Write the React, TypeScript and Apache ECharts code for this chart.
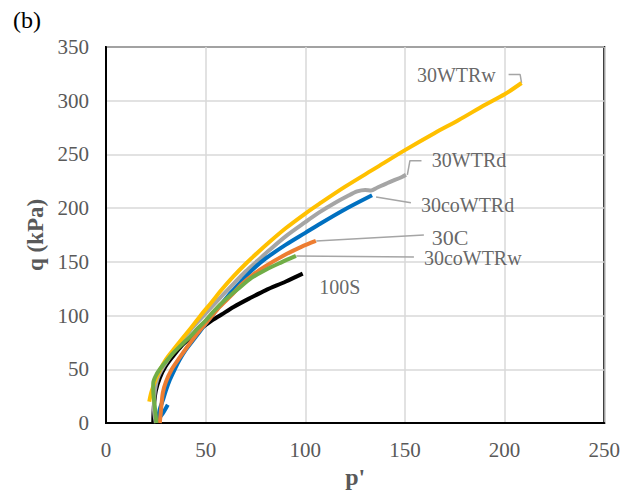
import React, { useEffect, useRef } from "react";
import * as echarts from "echarts";

const FONT = "'Liberation Serif', 'Times New Roman', serif";

// series data (p', q)
const s100S: number[][] = [[23.7,0],[24,15],[25,30],[27,42],[30,53],[34,63],[38,72],[42,79],[47,87],[52,94],[58,101],[64,108],[72,116],[80,123.5],[90,131.5],[98.7,139]];
const s30coWTRw: number[][] = [[25.3,0],[24.5,15],[23.7,30],[23.7,37],[25,44],[27,50],[30,57],[33.7,65],[38,73],[42,80],[46,88],[50.3,96],[54,104],[60,115],[67,126],[73,135],[80,142.5],[88,149.5],[95.3,155.5]];
const s30coWTRd: number[][] = [[31,17],[28.5,9],[26,3],[27,13],[28.5,21],[30,30],[32,40],[34.5,50],[37,59],[40,68],[43.7,77],[47,85],[50.3,93],[54,102],[58,111],[63,122],[68,132],[73.7,143],[80,153],[90.3,166],[100,177],[107,185],[120,199],[133.5,212]];
const s30C: number[][] = [[27,0],[27.5,10],[28.5,28],[30,38],[33,50],[37,61],[42,74],[47,86],[52,97],[57,108],[63,119],[68,129],[73.7,138],[80,146],[90.3,157],[98,164],[105.3,169.5]];
const s30WTRd: number[][] = [[25,0],[24,15],[24.5,30],[26,42],[29,53],[33,64],[38,76],[43,88],[50,102],[57,116],[63.7,129],[70,141],[76,151],[82,161],[90.3,174],[100,187],[107,196],[115,205],[121,211],[126,215.5],[130,217],[133,216.5],[136,219],[142,224],[148.5,229],[150.5,231]];
const s30WTRw: number[][] = [[21.7,19.8],[22.5,27],[23.7,34],[25,41],[27,49],[30,59],[33.7,68],[38,78],[42,87],[47,99],[52.8,112],[58,124],[63.7,136],[70,148],[76,158.5],[82,168.5],[90.3,181.5],[100,195],[107,204],[120,220],[135,237],[150,254],[165,270],[177,282],[190,296],[200,306],[208.5,316.5]];

// annotation leader lines (data coords)
const lead30WTRw: number[][] = [[208.5,316.5],[207.8,324.4],[202,324.4]];
const lead30WTRd: number[][] = [[151.2,231],[152.5,244.2],[158.3,244.2]];
const lead30coWTRd: number[][] = [[135.5,210.4],[153,205]];
const lead30C: number[][] = [[105.5,169.5],[159.5,175]];
const lead30coWTRw: number[][] = [[95.5,155.5],[154.5,154.6]];

// label anchors (left edge, vertical middle)
const labelNames = ["30WTRw", "30WTRd", "30coWTRd", "30C", "30coWTRw", "100S"];
const labelPos: number[][] = [[156,324],[163.5,245],[158,203],[163.5,173],[159.5,153.2],[107,126.6]];

const xTicks = { min: 0, max: 250, interval: 50 };
const yTicks = { min: 0, max: 350, interval: 50 };

export default function App() {
  const ref = useRef<HTMLDivElement>(null);
  useEffect(() => {
    if (!ref.current) return;
    const chart = echarts.init(ref.current, null, { renderer: "svg" });
    const curve = (name: string, data: number[][], color: string) => ({
      name,
      type: "line",
      data,
      showSymbol: false,
      symbol: "none",
      lineStyle: { color, width: 4 },
      itemStyle: { color },
      smooth: 0.3,
      z: 3,
    });
    const leader = (data: number[][]) => ({
      type: "line",
      data,
      symbol: "none",
      lineStyle: { color: "#A5A5A5", width: 1.5 },
      silent: true,
      z: 2,
    });
    chart.setOption({
      animation: false,
      textStyle: { fontFamily: FONT },
      graphic: [
        { type: "text", left: 5, top: 0, style: { text: "(b)", font: `24px ${FONT}`, fill: "#000" } },
      ],
      grid: { left: 98, right: 18, top: 39, bottom: 73, show: true, borderColor: "#000", borderWidth: 2, containLabel: false },
      xAxis: {
        type: "value",
        ...xTicks,
        name: "p'",
        nameLocation: "middle",
        nameGap: 42,
        nameTextStyle: { fontFamily: FONT, fontSize: 24, fontWeight: "bold", color: "#595959" },
        axisLine: { show: true, lineStyle: { color: "#000", width: 2 } },
        axisTick: { show: false },
        axisLabel: { fontFamily: FONT, fontSize: 21, color: "#595959", margin: 16 },
        splitLine: { show: true, lineStyle: { color: "#D9D9D9", width: 1.5 } },
      },
      yAxis: {
        type: "value",
        ...yTicks,
        name: "q (kPa)",
        nameLocation: "middle",
        nameGap: 58,
        nameTextStyle: { fontFamily: FONT, fontSize: 23, fontWeight: "bold", color: "#595959" },
        axisLine: { show: true, lineStyle: { color: "#000", width: 2 } },
        axisTick: { show: false },
        axisLabel: { fontFamily: FONT, fontSize: 21, color: "#595959", margin: 17 },
        splitLine: { show: true, lineStyle: { color: "#D9D9D9", width: 1.5 } },
      },
      series: [
        leader(lead30WTRw),
        leader(lead30WTRd),
        leader(lead30coWTRd),
        leader(lead30C),
        leader(lead30coWTRw),
        curve("100S", s100S, "#000000"),
        curve("30WTRd", s30WTRd, "#A5A5A5"),
        curve("30coWTRd", s30coWTRd, "#0070C0"),
        curve("30C", s30C, "#ED7D31"),
        curve("30WTRw", s30WTRw, "#FFC000"),
        curve("30coWTRw", s30coWTRw, "#70AD47"),
        {
          type: "scatter",
          symbolSize: 0,
          silent: true,
          data: labelPos.map((p, i) => ({
            value: [p[0], p[1]],
            name: labelNames[i],
            label: labelNames[i] === "30C" ? { fontSize: 22 } : undefined,
          })),
          label: {
            show: true,
            position: "right",
            distance: 0,
            formatter: (p: any) => p.name,
            fontFamily: FONT,
            fontSize: 20,
            color: "#404040",
            align: "left",
            verticalAlign: "middle",
          },
          z: 4,
        },
      ],
    });
    return () => chart.dispose();
  }, []);
  return <div ref={ref} style={{ width: 615, height: 488 }} />;
}
